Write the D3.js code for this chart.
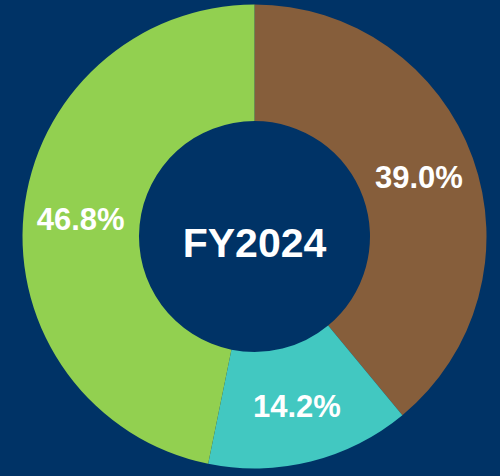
<!DOCTYPE html>
<html><head><meta charset="utf-8">
<script src="https://cdn.jsdelivr.net/npm/d3@7"></script>
<style>html,body{margin:0;padding:0;background:#003366;}svg{display:block;}</style>
</head><body>
<svg id="chart" width="500" height="476"></svg>
<script>
const categories = ["Segment A", "Segment B", "Segment C"];
const values = [39.0, 14.2, 46.8];
const labels = ["39.0%", "14.2%", "46.8%"];
const colors = ["#865E3B", "#42C8C1", "#92D050"];
const centerTitle = "FY2024";

const W = 500, H = 476, cx = 254.5, cy = 236.5, rOuter = 232, rInner = 115.5;
const svg = d3.select("#chart");
svg.append("rect").attr("width", W).attr("height", H).attr("fill", "#003366");
const g = svg.append("g").attr("transform", `translate(${cx},${cy})`);
const pie = d3.pie().sort(null).value(d => d)(values);
const arc = d3.arc().innerRadius(rInner).outerRadius(rOuter);
const color = d3.scaleOrdinal().domain(categories).range(colors);
g.selectAll("path").data(pie).join("path")
  .attr("d", arc).attr("fill", (d, i) => color(categories[i]));
const labelArc = d3.arc().innerRadius(rInner + 1).outerRadius(rOuter + 1);
g.selectAll("text.lbl").data(pie).join("text").attr("class", "lbl")
  .attr("transform", d => { const [x, y] = labelArc.centroid(d); return `translate(${x},${y})`; })
  .attr("text-anchor", "middle").attr("dy", "0.36em")
  .attr("fill", "#fff").attr("font-family", "Liberation Sans, Arial, sans-serif")
  .attr("font-weight", "bold").attr("font-size", 31)
  .text((d, i) => labels[i]);
g.append("text").attr("text-anchor", "middle").attr("x", 0).attr("y", 20.5)
  .attr("fill", "#fff").attr("font-family", "Liberation Sans, Arial, sans-serif")
  .attr("font-weight", "bold").attr("font-size", 41)
  .text(centerTitle);
</script>
</body></html>
